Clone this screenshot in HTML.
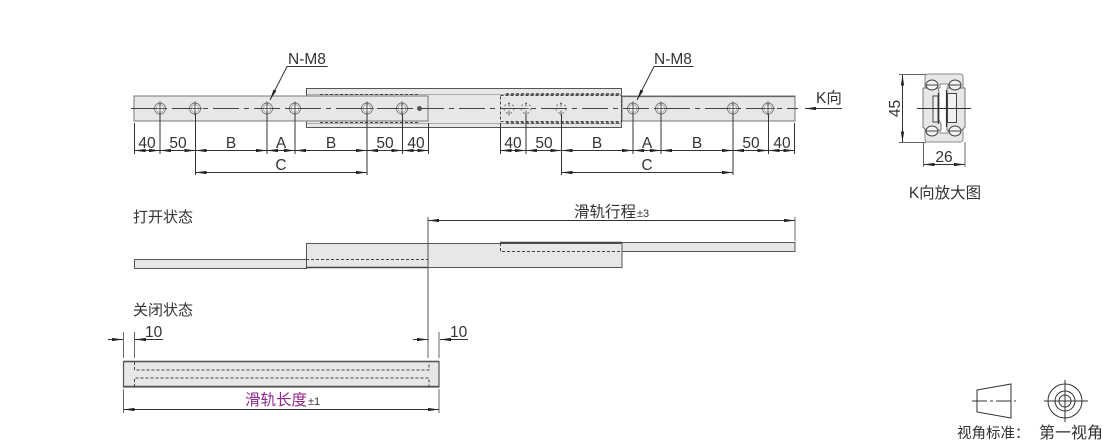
<!DOCTYPE html>
<html><head><meta charset="utf-8">
<style>
html,body{margin:0;padding:0;background:#fff;width:1110px;height:444px;overflow:hidden}
svg{display:block}
text{font-family:"Liberation Sans","Noto Sans CJK SC",sans-serif;fill:#333}
.f{fill:#e6e7e8;stroke:#555;stroke-width:1}
.l{stroke:#333;stroke-width:1;fill:none}
.g{stroke:#666;stroke-width:1;fill:none}
.c{stroke:#444;stroke-width:.9;fill:none;stroke-dasharray:26 5 5 5}
.d{stroke:#444;stroke-width:1;fill:none;stroke-dasharray:3 2}
.t{font-size:15.5px}
.m{text-anchor:middle}
</style></head><body>
<svg width="1110" height="444" viewBox="0 0 1110 444" xmlns="http://www.w3.org/2000/svg">
<defs>
<marker id="e" markerWidth="12" markerHeight="6" refX="11" refY="3" orient="auto" markerUnits="userSpaceOnUse"><path d="M0 1.400L11 3L0 4.600z" fill="#222"/></marker>
<marker id="s" markerWidth="12" markerHeight="6" refX="1" refY="3" orient="auto" markerUnits="userSpaceOnUse"><path d="M12 1.400L1 3L12 4.600z" fill="#222"/></marker>
<g id="h"><circle r="5.500" fill="#f2f2f2" stroke="#777" stroke-width=".9"/><circle r="3.800" fill="#f6f6f6" stroke="#aaa" stroke-width=".8"/><path d="M-7 0H7M0-7V7" stroke="#333" stroke-width=".8"/></g>
<g id="hh"><circle r="5" fill="none" stroke="#666" stroke-width=".9" stroke-dasharray="2 2.500"/><path d="M-3 0H3M0-6V-2M0 2V7" stroke="#444" stroke-width=".8"/></g>
</defs>

<!-- Main view: slide body -->
<rect class="f" x="306.500" y="88.500" width="315" height="39"/>
<path stroke="#999" stroke-width=".7" fill="none" d="M306.500 94.500H622M306.500 123.500H622"/>
<path class="d" d="M320 94.500H418M320 122.500H418"/>
<!-- left rail -->
<rect x="134" y="96" width="294" height="25" fill="#e6e7e8" stroke="#777" stroke-width="1"/>
<!-- right rail -->
<rect x="622" y="96" width="173" height="25" fill="#e6e7e8" stroke="#777" stroke-width="1"/>
<path d="M622 96.500H795" stroke="#666" stroke-width="1.200"/>
<rect class="d" x="500.500" y="95.500" width="121" height="26"/>
<path class="d" style="stroke-width:1.500" d="M506 94H620M506 123H620"/>
<path class="c" d="M131 108.500H798"/>

<use href="#h" x="160" y="108.500"/><use href="#h" x="195" y="108.500"/><use href="#h" x="267" y="108.500"/><use href="#h" x="295" y="108.500"/><use href="#h" x="367" y="108.500"/><use href="#h" x="402" y="108.500"/>
<circle cx="419.500" cy="108.500" r="2.500" fill="#555"/>
<use href="#hh" x="509" y="108.500"/><use href="#hh" x="526" y="108.500"/><use href="#hh" x="561" y="108.500"/>
<use href="#h" x="633" y="108.500"/><use href="#h" x="661" y="108.500"/><use href="#h" x="733" y="108.500"/><use href="#h" x="768" y="108.500"/>

<!-- leaders -->
<path class="l" d="M327.500 66.500H287L270 100" marker-end="url(#e)"/>
<path class="l" d="M693.500 66.500H654L637 100" marker-end="url(#e)"/>
<text class="t" x="288" y="64">N-M8</text>
<text class="t" x="654" y="64">N-M8</text>
<!-- K -->
<path class="l" d="M842 108.500H805" marker-end="url(#e)"/>
<text class="t" x="816" y="103">K向</text>

<!-- left dim ext -->
<path class="l" d="M134.500 123V154M160 114V154M195.500 114V175M267 114V154M295 114V154M367 114V175M402.500 114V154M428.500 123V154"/>
<path d="M134.500 150.500H160" marker-start="url(#s)" marker-end="url(#e)" class="l"/>
<path d="M160 150.500H195.500" marker-start="url(#s)" marker-end="url(#e)" class="l"/>
<path d="M195.500 150.500H267" marker-start="url(#s)" marker-end="url(#e)" class="l"/>
<path d="M267 150.500H295" marker-start="url(#s)" marker-end="url(#e)" class="l"/>
<path d="M295 150.500H367" marker-start="url(#s)" marker-end="url(#e)" class="l"/>
<path d="M367 150.500H402.500" marker-start="url(#s)" marker-end="url(#e)" class="l"/>
<path d="M402.500 150.500H428.500" marker-start="url(#s)" marker-end="url(#e)" class="l"/>
<path d="M195.500 172.500H367" marker-start="url(#s)" marker-end="url(#e)" class="l"/>
<g class="t m"><text x="147" y="148">40</text><text x="178" y="148">50</text><text x="231" y="148">B</text><text x="281" y="148">A</text><text x="331" y="148">B</text><text x="385" y="148">50</text><text x="416" y="148">40</text><text x="281" y="170">C</text></g>

<!-- right dim ext -->
<path class="l" d="M500.500 123V154M526 114V154M561.500 114V175M633 114V154M661 114V154M733 114V175M768.500 114V154M794.500 123V154"/>
<path d="M500.500 150.500H526" marker-start="url(#s)" marker-end="url(#e)" class="l"/>
<path d="M526 150.500H561.500" marker-start="url(#s)" marker-end="url(#e)" class="l"/>
<path d="M561.500 150.500H633" marker-start="url(#s)" marker-end="url(#e)" class="l"/>
<path d="M633 150.500H661" marker-start="url(#s)" marker-end="url(#e)" class="l"/>
<path d="M661 150.500H733" marker-start="url(#s)" marker-end="url(#e)" class="l"/>
<path d="M733 150.500H768.500" marker-start="url(#s)" marker-end="url(#e)" class="l"/>
<path d="M768.500 150.500H794.500" marker-start="url(#s)" marker-end="url(#e)" class="l"/>
<path d="M561.500 172.500H733" marker-start="url(#s)" marker-end="url(#e)" class="l"/>
<g class="t m"><text x="513" y="148">40</text><text x="544" y="148">50</text><text x="597" y="148">B</text><text x="647" y="148">A</text><text x="697" y="148">B</text><text x="751" y="148">50</text><text x="782" y="148">40</text><text x="647" y="170">C</text></g>

<!-- K view -->
<path class="g" d="M899 74.500H926M899 142.500H926"/>
<path d="M902.500 74.500V142.500" class="l" marker-start="url(#s)" marker-end="url(#e)"/>
<text class="t m" transform="translate(900,108.500) rotate(-90)">45</text>
<path d="M925 77q0-3 3-3H960q3 0 3 3V88H948V84H940V88H925z" fill="#e6e7e8" stroke="#888"/>
<path d="M925 129H940V133H948V129H963V139q0 3-3 3H928q-3 0-3-3z" fill="#e6e7e8" stroke="#888"/>
<path d="M938 88H923V127l3 3H941V124L939 120V92z" fill="#e6e7e8" stroke="#777"/>
<path d="M949 88H965V127l-3 3H947V88z" fill="#e6e7e8" stroke="#777"/>
<rect x="933" y="96" width="5" height="26" fill="#f0f0f0" stroke="#444"/>
<rect x="947.500" y="93.500" width="9" height="29" fill="#f0f0f0" stroke="#444"/>
<path d="M938.500 93V124M946.500 90V127" stroke="#333" stroke-width="1.200"/>
<g fill="#f4f4f4" stroke="#444"><ellipse cx="932" cy="85" rx="6" ry="5"/><ellipse cx="955" cy="85" rx="6" ry="5"/><ellipse cx="932" cy="131" rx="6" ry="5"/><ellipse cx="955" cy="131" rx="6" ry="5"/></g>
<path d="M926 85H938M949 85H961M926 131H938M949 131H961" stroke="#444"/>
<path class="l" d="M917 108.500H971"/>
<path class="g" d="M923.500 142V167M965 142V167"/>
<path d="M923.500 164.500H965" class="l" marker-start="url(#s)" marker-end="url(#e)"/>
<text class="t m" x="944" y="162">26</text>
<text x="945" y="198" class="m" font-size="15.500">K向放大图</text>

<!-- Open state -->
<text x="133" y="222" font-size="15">打开状态</text>
<rect class="f" x="134.500" y="259.500" width="172" height="9"/>
<rect class="f" x="306.500" y="243.500" width="315.500" height="24"/>
<rect x="622" y="242.500" width="173" height="9" class="f"/>
<path d="M306 267.500H428" stroke="#444" stroke-width="1.500"/>
<path d="M500 242.500H622" stroke="#444" stroke-width="1.500"/>
<path class="d" d="M306 259.500H428M500.500 243V251.500H622"/>
<path d="M428 217V342" stroke="#555" stroke-width="1"/>
<path class="g" d="M795 217V241"/>
<path d="M428 220.500H795" class="l" marker-start="url(#s)" marker-end="url(#e)"/>
<text x="574" y="217" font-size="15.500">滑轨行程<tspan font-size="11" dx="1">±3</tspan></text>

<!-- Closed state -->
<text x="133" y="315" font-size="15">关闭状态</text>
<rect x="123.500" y="361.500" width="315.500" height="25.500" fill="#e6e7e8" stroke="#555" stroke-width="1.200"/>
<path d="M123 361.500H439M123 386.500H439" stroke="#555" stroke-width="1.500"/>
<path class="d" d="M134.500 362V370H429V362M134.500 387V378H429V387"/>
<path class="g" d="M123.500 332V358M134.500 332V358M428 342V358M439 332V358"/>
<path class="l" d="M108 339.500H123" marker-end="url(#e)"/>
<path class="l" d="M163 339.500H135" marker-end="url(#e)"/>
<path class="l" d="M413 339.500H428" marker-end="url(#e)"/>
<path class="l" d="M468 339.500H440" marker-end="url(#e)"/>
<text class="t" x="145" y="337">10</text>
<text class="t" x="450" y="337">10</text>
<path class="g" d="M123.500 389V413M439 389V413"/>
<path d="M123.500 409.500H439" class="l" marker-start="url(#s)" marker-end="url(#e)"/>
<text x="245" y="405" font-size="15.500" style="fill:#93278f">滑轨长度<tspan font-size="11" dx="1" style="fill:#333">±1</tspan></text>

<!-- Projection symbol -->
<path class="l" d="M977 390L1011 384V418L977 412z"/>
<path class="l" style="stroke-dasharray:15 3 3 3" d="M972 401H1016"/>
<circle class="l" cx="1065" cy="401" r="17"/><circle class="l" cx="1065" cy="401" r="10"/><circle class="l" cx="1065" cy="401" r="6" stroke-width=".8"/>
<path class="l" d="M1044 401H1088M1065 380V422"/>
<text x="957" y="438" font-size="14.500">视角标准：</text>
<text x="1039" y="438" font-size="16">第一视角</text>
</svg>
</body></html>
